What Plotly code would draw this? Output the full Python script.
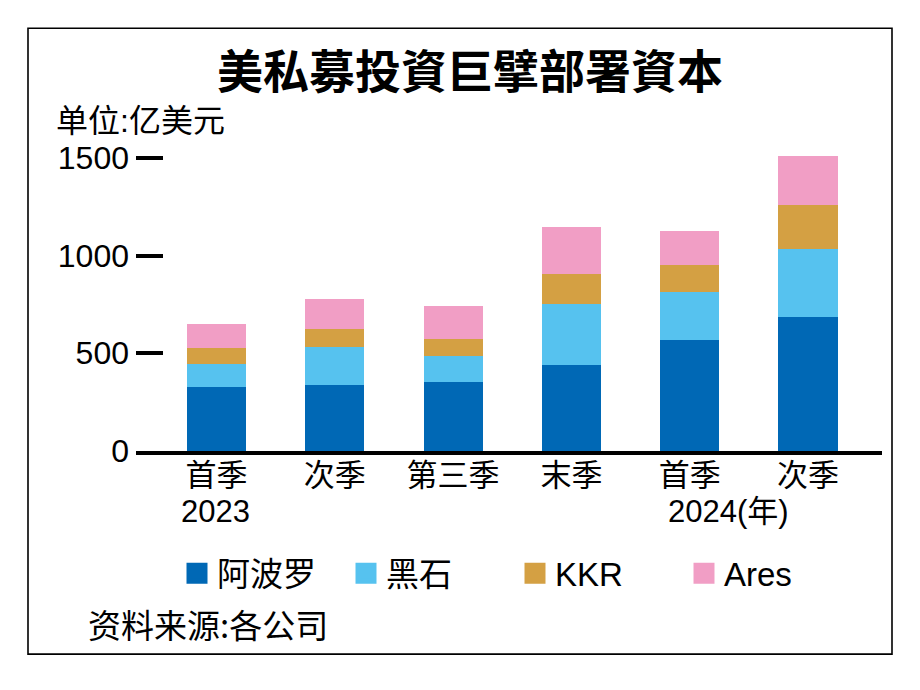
import plotly.graph_objects as go

# ---- data (亿美元) ----
categories = ["首季", "次季", "第三季", "末季", "首季 ", "次季 "]
tick_labels = ["首季", "次季", "第三季", "末季", "首季", "次季"]
year_labels = ["2023", "2024(年)"]
year_label_cats = ["首季", "首季 "]

series_names = ["阿波罗", "黑石", "KKR", "Ares"]
apollo = [326, 340, 355, 442, 569, 688]
blackstone = [119, 190, 133, 311, 244, 345]
kkr = [84, 94, 87, 155, 139, 226]
ares = [121, 156, 168, 239, 174, 250]
series_values = [apollo, blackstone, kkr, ares]
colors = ["#0068B5", "#56C2EF", "#D4A043", "#F19EC5"]

y_ticks = [0, 500, 1000, 1500]

FONT = "Liberation Sans, Noto Sans CJK SC, sans-serif"
CJK = "Noto Sans CJK SC, sans-serif"

# page offset (browser body margin) and figure size
OFF = 8
W, H = 912, 682
# plot area in screen pixels
L, R, T, B = 136, 882, 140, 451.5
PW, PH = R - L, B - T


def px(x):
    return (x - L) / PW


def py(y):
    return (B - y) / PH


fig = go.Figure()
for name, vals, col in zip(series_names, series_values, colors):
    fig.add_trace(go.Bar(
        x=categories, y=vals, name=name, marker=dict(color=col, line=dict(width=0)),
        width=0.5, showlegend=False, hoverinfo="x+y+name"))
# legend entries (big squares)
for name, col in zip(series_names, colors):
    fig.add_trace(go.Scatter(
        x=[None], y=[None], mode="markers", name=name,
        marker=dict(symbol="square", size=16, color=col, line=dict(width=5, color=col)),
        showlegend=True))

step = 118.3
r0 = -(216.5 - L) / step
r1 = r0 + PW / step

fig.update_layout(
    width=W, height=H,
    margin=dict(l=L - OFF, r=W - (R - OFF), t=T - OFF, b=H - (B - OFF)),
    paper_bgcolor="white", plot_bgcolor="white",
    barmode="stack", bargap=0.5,
    font=dict(family=FONT, color="black"),
    title=dict(text="<b>美私募投資巨擘部署資本</b>", font=dict(family=CJK, size=46, color="black"),
               x=(470 - OFF) / W, xanchor="center", xref="container",
               y=1 - (72 - OFF) / H, yanchor="middle", yref="container"),
    xaxis=dict(type="category", categoryorder="array", categoryarray=categories,
               range=[r0, r1], showline=True, linecolor="black", linewidth=4,
               tickvals=categories, ticktext=tick_labels, ticks="",
               ticklabelstandoff=-6,
               tickfont=dict(size=31, family=FONT, color="black"),
               showgrid=False, zeroline=False, fixedrange=True),
    yaxis=dict(range=[0, (B - T) / 0.1958], tickvals=y_ticks, ticktext=[str(v) for v in y_ticks],
               ticks="inside", ticklen=27, tickwidth=3.5, tickcolor="black",
               ticklabelstandoff=6,
               tickfont=dict(size=32, family=FONT, color="black"),
               showgrid=False, zeroline=False, showline=False, fixedrange=True),
    legend=dict(orientation="h", x=px(177), xanchor="left", y=py(574), yanchor="middle",
                font=dict(size=33, family=FONT, color="black"),
                itemsizing="trace", entrywidth=124, entrywidthmode="pixels",
                traceorder="normal",
                bgcolor="rgba(0,0,0,0)", tracegroupgap=0),
    showlegend=True,
)

# year lines under tick labels
for cat, txt, shift in zip(year_label_cats, year_labels, [-38, -24]):
    fig.add_annotation(x=cat, xref="x", y=py(512), yref="paper", text=txt,
                       showarrow=False, xanchor="left", yanchor="middle", xshift=shift,
                       font=dict(size=31, family=FONT, color="black"))

# unit label
fig.add_annotation(x=px(54), xref="paper", y=py(121), yref="paper", text="单位:亿美元",
                   showarrow=False, xanchor="left", yanchor="middle",
                   font=dict(size=32, family=FONT, color="black"))
# source
fig.add_annotation(x=px(86), xref="paper", y=py(625), yref="paper", text="资料来源:各公司",
                   showarrow=False, xanchor="left", yanchor="middle",
                   font=dict(size=33, family=CJK, color="black"))

# outer frame
fig.add_shape(type="rect", xref="paper", yref="paper",
              x0=px(28), x1=px(892), y0=py(655), y1=py(28),
              line=dict(color="black", width=1.6), fillcolor="rgba(0,0,0,0)", layer="below")

fig.write_html("out.html")
